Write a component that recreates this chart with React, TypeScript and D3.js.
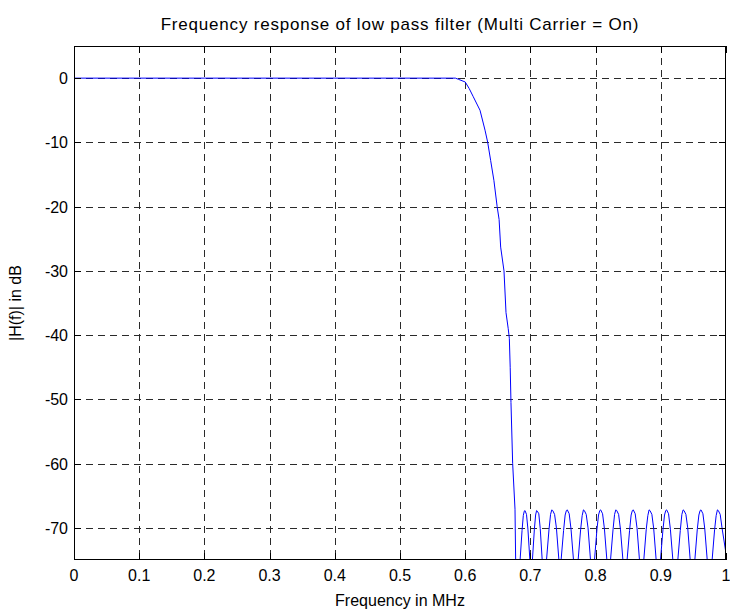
import React from 'react';
import * as d3 from 'd3';

// ---- data ----
const xTicks = [0, 0.1, 0.2, 0.3, 0.4, 0.5, 0.6, 0.7, 0.8, 0.9, 1];
const xTickLabels = ['0', '0.1', '0.2', '0.3', '0.4', '0.5', '0.6', '0.7', '0.8', '0.9', '1'];
const yTicks = [0, -10, -20, -30, -40, -50, -60, -70];
const yTickLabels = ['0', '-10', '-20', '-30', '-40', '-50', '-60', '-70'];

const passbandF = [0, 0.1, 0.2, 0.3, 0.4, 0.5, 0.585];
const passbandDb = [0, 0, 0, 0, 0, 0, 0];

const transitionF = [0.59, 0.6, 0.606, 0.6124, 0.6227, 0.6304, 0.6345, 0.639, 0.644, 0.649, 0.652, 0.6544, 0.6595, 0.6626, 0.666, 0.6677, 0.669, 0.6702, 0.6728, 0.6764, 0.679];
const transitionDb = [-0.2, -0.6, -1.6, -2.9, -5.0, -8.1, -10, -12.8, -15.9, -20, -22, -26.3, -30, -36.5, -39, -40.5, -45, -50.5, -60, -67.1, -88];

const stopbandF = [
  0.6842, 0.6872, 0.6891, 0.6906, 0.6917, 0.694, 0.6962, 0.6992, 0.7012,
  0.7031, 0.7061, 0.708, 0.7095, 0.7106, 0.7129, 0.7151, 0.7181, 0.7214,
  0.7247, 0.7285, 0.7309, 0.7328, 0.7342, 0.7371, 0.7399, 0.7437, 0.7454,
  0.7471, 0.7509, 0.7533, 0.7552, 0.7566, 0.7595, 0.7623, 0.7661, 0.7697,
  0.7732, 0.777, 0.7794, 0.7813, 0.7827, 0.7856, 0.7884, 0.7922, 0.7953,
  0.7983, 0.8021, 0.8045, 0.8064, 0.8078, 0.8107, 0.8135, 0.8173, 0.8201,
  0.8229, 0.8267, 0.8291, 0.831, 0.8324, 0.8353, 0.8381, 0.8419, 0.8451,
  0.8483, 0.8521, 0.8545, 0.8564, 0.8578, 0.8607, 0.8635, 0.8673, 0.8706,
  0.8739, 0.8777, 0.8801, 0.882, 0.8834, 0.8863, 0.8891, 0.8929, 0.8962,
  0.8995, 0.9033, 0.9057, 0.9076, 0.909, 0.9119, 0.9147, 0.9185, 0.9223,
  0.9261, 0.9299, 0.9323, 0.9342, 0.9356, 0.9385, 0.9413, 0.9451, 0.9487,
  0.9522, 0.956, 0.9584, 0.9603, 0.9617, 0.9646, 0.9674, 0.9712, 0.975,
  0.9787, 0.9825, 0.9849, 0.9868, 0.9882, 0.9911, 0.9939, 1.0,
];
const stopbandDb = [
  -75, -70.4, -68.1, -67.4, -67.3, -67.9, -70.2, -75, -88,
  -75, -70.2, -68.0, -67.3, -67.4, -67.8, -70.1, -75, -90,
  -75, -70.3, -67.9, -67.2, -67.3, -67.9, -70.0, -75, -86,
  -75, -70.4, -68.0, -67.3, -67.2, -67.8, -70.2, -75, -89,
  -75, -70.3, -68.1, -67.2, -67.3, -67.9, -70.0, -75, -87,
  -75, -70.2, -68.0, -67.3, -67.2, -67.8, -70.1, -75, -90,
  -75, -70.3, -67.9, -67.2, -67.3, -67.9, -70.2, -75, -88,
  -75, -70.4, -68.0, -67.3, -67.2, -67.8, -70.0, -75, -86,
  -75, -70.2, -68.1, -67.2, -67.3, -67.9, -70.1, -75, -89,
  -75, -70.3, -68.0, -67.3, -67.2, -67.8, -70.2, -75, -87,
  -75, -70.4, -67.9, -67.2, -67.3, -67.9, -70.0, -75, -90,
  -75, -70.2, -68.0, -67.3, -67.2, -67.8, -70.1, -75, -88,
  -75, -70.3, -68.1, -67.2, -67.3, -67.9, -70.0, -74,
];

const titleText = 'Frequency response of low pass filter (Multi Carrier = On)';
const xLabelText = 'Frequency in MHz';
const yLabelText = '|H(f)| in dB';

// ---- layout ----
const W = 730;
const H = 610;
const L = 74, R = 726, T = 46, B = 560;
const FONT = 'Liberation Sans, Arial, Helvetica, sans-serif';
const FS = 16;
const TITLE_FS = 17;

export default function App() {
  const x = d3.scaleLinear().domain([0, 1]).range([L, R]);
  const y = d3.scaleLinear().domain([-75, 5]).range([B, T]);

  const pts: [number, number][] = [];
  passbandF.forEach((f, i) => pts.push([f, passbandDb[i]]));
  transitionF.forEach((f, i) => pts.push([f, transitionDb[i]]));
  stopbandF.forEach((f, i) => pts.push([f, stopbandDb[i]]));

  const line = d3.line<[number, number]>().x(d => x(d[0])).y(d => y(d[1]));
  const tickLen = 7;
  const grid = '#2a2a2a';

  return (
    <svg width={W} height={H} style={{ position: 'absolute', left: 0, top: 0, background: '#fff' }} fontFamily={FONT}>
      <rect x={0} y={0} width={W} height={H} fill="#fff" />
      <defs>
        <clipPath id="plotclip">
          <rect x={L} y={T} width={R - L} height={B - T} />
        </clipPath>
      </defs>
      {/* grid */}
      <g stroke={grid} strokeWidth={1} strokeDasharray="7,5" shapeRendering="crispEdges">
        {xTicks.filter(v => v > 0 && v < 1).map(v => (
          <line key={'gx' + v} x1={Math.round(x(v)) + 0.5} x2={Math.round(x(v)) + 0.5} y1={T} y2={B} />
        ))}
        {yTicks.map(v => (
          <line key={'gy' + v} x1={L} x2={R} y1={Math.round(y(v)) + 0.5} y2={Math.round(y(v)) + 0.5} />
        ))}
      </g>
      {/* curve */}
      <path d={line(pts) || ''} fill="none" stroke="#0000ff" strokeWidth={1} clipPath="url(#plotclip)" />
      {/* frame */}
      <rect x={L + 0.5} y={T + 0.5} width={R - L - 1} height={B - T - 1} fill="none" stroke="#000" strokeWidth={1} shapeRendering="crispEdges" />
      {/* ticks */}
      <g stroke="#000" strokeWidth={1} shapeRendering="crispEdges">
        {xTicks.map(v => {
          const px = Math.round(x(v)) + 0.5;
          return (
            <g key={'tx' + v}>
              <line x1={px} x2={px} y1={B} y2={B - tickLen} />
              <line x1={px} x2={px} y1={T} y2={T + tickLen} />
            </g>
          );
        })}
        {yTicks.map(v => {
          const py = Math.round(y(v)) + 0.5;
          return (
            <g key={'ty' + v}>
              <line x1={L} x2={L + tickLen} y1={py} y2={py} />
              <line x1={R} x2={R - tickLen} y1={py} y2={py} />
            </g>
          );
        })}
      </g>
      {/* tick labels */}
      <g fontSize={FS} fill="#000">
        {xTicks.map((v, i) => (
          <text key={'lx' + v} x={x(v)} y={B + 21} textAnchor="middle">{xTickLabels[i]}</text>
        ))}
        {yTicks.map((v, i) => (
          <text key={'ly' + v} x={L - 6} y={y(v) + 6} textAnchor="end">{yTickLabels[i]}</text>
        ))}
      </g>
      {/* title and labels */}
      <text x={(L + R) / 2} y={30} textAnchor="middle" fontSize={TITLE_FS} letterSpacing={0.8}>{titleText}</text>
      <text x={(L + R) / 2} y={606} textAnchor="middle" fontSize={FS}>{xLabelText}</text>
      <text transform={`translate(21,${(T + B) / 2}) rotate(-90)`} textAnchor="middle" fontSize={FS}>{yLabelText}</text>
    </svg>
  );
}
